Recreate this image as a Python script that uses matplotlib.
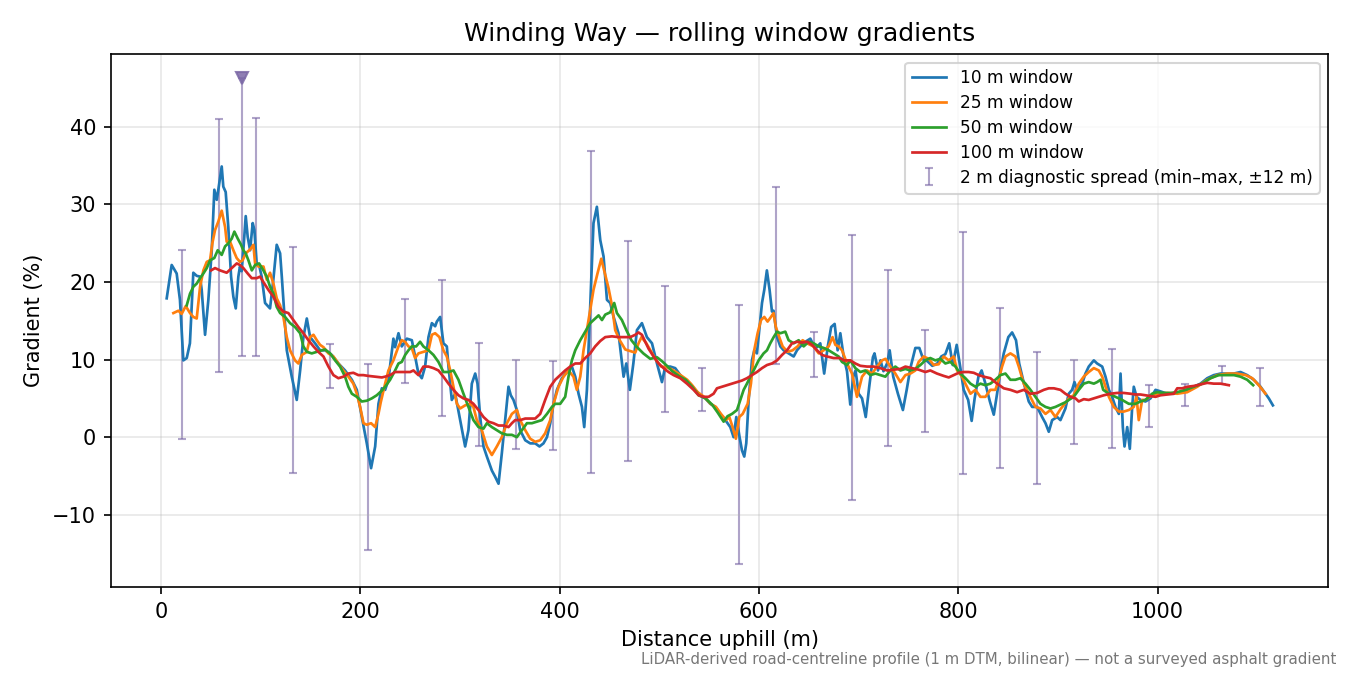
import numpy as np
import matplotlib
matplotlib.use("Agg")
import matplotlib.pyplot as plt

# distance (m) / gradient (%), one pair of lists per window
x10 = [5.7, 10.7, 15.7, 19, 22.4, 25.8, 29, 32.4, 35.8, 39.1, 40.8, 44.2, 47.5, 50.9, 53.5, 55.9, 57.5,
       60.9, 62.5, 64.9, 67.5, 70.3, 72.6, 75, 77.6, 79.2, 80.9, 82.6, 85, 87, 89.4, 92, 93.7, 96, 98.4,
       101, 104.4, 109.4, 112.7, 116.1, 119.5, 121.2, 126.2, 131.2, 136.2, 139.6, 142.9, 146.3, 149.6,
       154.6, 159.6, 164.7, 171.4, 178, 184.7, 191.5, 196.5, 201.5, 206.5, 210.8, 214.9, 218.2, 221.6,
       224.9, 228.2, 233.2, 234.9, 238.3, 241.6, 246.7, 251.7, 255, 258.3, 261.7, 265, 268.4, 271.8,
       275.1, 276.8, 280.1, 283.4, 286.8, 288.5, 291.8, 295.2, 300.2, 305.2, 308.5, 311.9, 315.3, 317.6,
       320.3, 323.6, 327, 332, 335.3, 338.7, 342, 345.4, 348.7, 351, 353.7, 357.1, 360.4, 365.5, 370.5,
       375.5, 379.8, 383.8, 387.3, 390.6, 393.9, 397.3, 402.3, 407.3, 412.3, 415.7, 419, 422.4, 424.7,
       427.4, 430.7, 434, 437.4, 440.8, 444.1, 447.5, 450.8, 454.2, 459.1, 464.2, 466.9, 470.5, 474,
       477.6, 482.6, 487.6, 492.7, 497.7, 502.7, 506, 511, 516, 521.1, 526.1, 531.1, 536.1, 541.2, 546.2,
       551.2, 556.2, 561.2, 566.3, 571.3, 574.6, 577.3, 580.6, 583, 585.3, 587.3, 589.7, 593, 595.4, 598,
       600.7, 603.1, 605.4, 608, 610.7, 613.1, 614.7, 618.2, 621.5, 624.8, 629.8, 634.9, 638.2, 641.6,
       646.6, 651.6, 656.6, 661.6, 665.5, 669, 672.5, 676, 679, 681.7, 685, 688.4, 691.7, 694.7, 697,
       700.1, 703.5, 707.2, 710.7, 714.4, 716, 719.5, 722, 725, 728.6, 731.2, 734.8, 739.5, 744.5, 748.3,
       752, 757, 761, 765, 769, 774, 779, 783, 787.1, 791, 794.5, 798.5, 802.2, 805.5, 810, 813.5, 816.5,
       820.3, 823.5, 827.3, 831.8, 835.7, 839, 842.4, 845.7, 850.3, 854.1, 858, 861.2, 865.8, 870.8,
       874.2, 879.2, 884.2, 887.6, 890.9, 894.3, 899.3, 902.6, 907.6, 910.9, 914.3, 916.7, 919.3, 924.4,
       927.7, 931, 936.1, 939.4, 944.5, 947.8, 951.2, 954.5, 957.8, 961.2, 962.9, 965.2, 966.9, 969.6,
       972.2, 974.6, 976.2, 979, 982.9, 987.9, 993, 998, 1003, 1009.7, 1016.4, 1023.1, 1029.8, 1036.4,
       1043.2, 1049.9, 1056.5, 1063.3, 1070, 1076.7, 1083.3, 1090, 1096.7, 1103.4, 1108.4, 1111.7, 1115.8]
g10 = [17.9, 22.2, 21.1, 17.7, 9.9, 10.2, 12.1, 21.2, 20.8, 20.7, 19.0, 13.2, 17.7, 24.1, 31.9, 30.6, 31.9,
       34.9, 32.3, 31.6, 27.1, 20.7, 18.1, 16.6, 20.7, 22.0, 21.4, 24.1, 28.5, 25.8, 24.1, 27.6, 26.7, 22.4,
       22.2, 20.7, 17.3, 16.6, 20.3, 24.8, 23.7, 20.7, 11.2, 7.8, 4.8, 8.6, 12.9, 15.3, 12.9,
       12.1, 11.2, 11.2, 10.6, 9.5, 8.6, 7.4, 6.1, 2.6, -0.8, -4.0, -1.2, 4.3, 6.3,
       6.1, 7.4, 12.7, 11.6, 13.4, 11.7, 12.7, 12.5, 10.4, 8.2, 7.6, 9.1, 12.9, 14.7,
       14.3, 14.9, 15.5, 12.1, 11.7, 9.1, 4.8, 5.6, 2.2, -1.2, 0.9, 6.9, 8.2, 6.9,
       2.6, -1.2, -2.5, -4.3, -5.1, -6.0, -2.1, 2.2, 6.5, 5.4, 4.8, 3.5, 0.9, -0.4, -0.8,
       -0.8, -1.2, -0.8, 0.0, 1.8, 4.3, 6.1, 7.6, 8.4, 9.1, 7.8, 5.6, 3.9, 1.3,
       6.1, 16.8, 27.6, 29.7, 25.4, 23.3, 17.7, 17.3, 15.5, 13.4, 7.8, 9.5, 6.1, 9.5,
       13.8, 14.7, 12.9, 12.1, 9.5, 7.1, 9.1, 9.1, 8.9, 8.0, 7.4, 6.9, 6.1, 5.4, 5.0,
       4.3, 3.9, 3.0, 2.2, 1.3, 0.0, 2.6, 0.0, -1.7, -2.5, -0.8, 4.8, 9.9, 11.2, 10.8,
       14.2, 17.3, 19.0, 21.5, 19.0, 16.2, 16.3, 12.9, 11.7, 11.2, 10.8, 10.4, 11.2, 11.7,
       12.3, 12.7, 11.4, 12.1, 8.2, 11.6, 14.2, 14.6, 11.2, 13.4, 10.4, 8.5, 4.2, 7.8, 8.6,
       5.6, 5.0, 2.6, 6.5, 10.3, 10.8, 8.6, 9.9, 8.5, 9.5, 11.2, 7.8, 5.6, 3.5, 6.1,
       8.9, 11.5, 11.5, 10.0, 9.8, 9.2, 9.5, 10.4, 10.7, 12.1, 9.3, 11.9, 8.9, 6.1, 4.8, 2.1, 5.0,
       7.8, 8.6, 6.9, 4.6, 2.9, 5.6, 8.6, 10.8, 12.9, 13.5, 12.5, 9.5, 7.0, 4.6,
       3.9, 3.9, 2.6, 1.8, 0.7, 2.2, 2.6, 2.2, 3.7, 5.6, 6.1, 7.1, 6.1, 6.9,
       8.2, 9.1, 9.9, 9.5, 9.1, 7.8, 6.1, 5.2, 3.9, 3.0, 8.2, 1.3, -1.2, 1.3,
       -1.5, 3.9, 6.5, 5.2, 4.8, 4.6, 5.0, 6.1, 5.9, 5.6, 5.6, 5.8, 6.1, 6.5,
       6.9, 7.6, 8.0, 8.2, 8.2, 8.2, 8.4, 8.0, 7.4, 6.5, 5.6, 5.0, 4.1]

x25 = [12.4, 17.4, 20.7, 24.8, 29.1, 32.4, 35.8, 39.2, 42.5, 45.9, 49.2, 51.5, 54.2, 57.5, 60.9, 64.3, 65.9,
       69.3, 72.6, 75.9, 79.2, 81.9, 85, 89.4, 92.7, 94.4, 97.7, 102.8, 106.1, 109.4, 112.8, 116.1, 119.5,
       122.8, 126.2, 129.5, 134.5, 137.8, 141.3, 146.3, 149.6, 153, 156.3, 159.6, 163, 168, 173, 178, 183,
       188, 193, 196.5, 199.8, 203.2, 206.5, 210.8, 214.9, 218.2, 220.5, 224.9, 228.2, 233.2, 238.3, 241.6,
       244.9, 248.3, 251.6, 255, 258.3, 263.3, 268.4, 271.8, 275.1, 279.4, 283.4, 286.8, 290.2, 293.5,
       296.9, 300.2, 305.2, 310.2, 313.5, 316.9, 321.9, 327, 332, 337, 342, 347.1, 352.1, 357.1, 360.4,
       365.5, 370.5, 375.5, 380.5, 385.5, 390.6, 393.9, 398.9, 403.9, 408.9, 413.9, 417.3, 420.7, 424,
       427.4, 430.7, 434, 438, 441.8, 445.8, 449.1, 452.5, 455.8, 460.3, 465.9, 470.9, 475.9, 479.2,
       482.2, 487, 492, 497, 502, 508, 513, 518, 523.5, 528, 533, 538.5, 545, 551.5, 556.9, 561.9, 567,
       570.3, 573.6, 576.9, 580.3, 583.7, 588.7, 592, 595.3, 598.7, 602.1, 605.4, 608.7, 612.1, 614.7,
       617, 620.4, 623.8, 628.8, 633.8, 638.8, 643.9, 648.3, 654.8, 660, 665, 670, 673.9, 676.7, 680,
       683.4, 688.4, 693.4, 698.4, 703.5, 708.5, 713.6, 718.6, 723.6, 727, 731.9, 736.9, 742, 747, 752,
       757, 760.3, 765.3, 770.4, 775.4, 780.4, 785.4, 790.5, 795.5, 798.9, 803.9, 807.2, 812.3, 817.3,
       822.3, 827.3, 832.3, 837.3, 840.6, 844, 847.4, 852.4, 857.4, 860.8, 865.8, 872.5, 877.5, 882.5,
       887.6, 892.6, 897.6, 902.6, 907.6, 911, 915.9, 921, 926, 931, 936.1, 941.1, 944.5, 947.8, 951.2,
       956.1, 961.2, 966.2, 971.2, 976.2, 978.9, 981.2, 984.6, 987.9, 993, 999.7, 1009.7, 1019.8, 1029.8,
       1039.9, 1049.9, 1059.9, 1070, 1080, 1088.4, 1095.1, 1101.7, 1108.4]
g25 = [16.0, 16.3, 15.9, 16.9, 16.0, 15.5, 15.3, 19.4, 21.5, 22.6, 22.8, 25.0, 26.7, 27.8, 29.2, 27.1, 25.2,
       25.2, 24.1, 23.1, 22.6, 22.8, 23.7, 24.2, 24.8, 22.4, 22.0, 22.0, 20.3, 21.2, 19.8, 17.9, 17.0,
       15.5, 12.9, 11.2, 9.9, 9.5, 10.6, 11.0, 12.9, 13.2, 12.5, 11.9, 11.6, 10.8, 10.4, 9.5, 8.6,
       7.8, 6.9, 5.6, 3.9, 1.8, 1.6, 1.8, 1.3, 3.0, 4.5, 6.9, 8.6, 9.9, 11.7, 12.5,
       12.3, 11.7, 11.5, 10.2, 10.8, 11.0, 11.2, 13.2, 13.4, 12.9, 11.2, 10.4, 8.6, 6.5,
       4.3, 3.7, 4.1, 4.3, 3.9, 2.2, 0.9, -1.2, -2.3, -1.2, 0.0, 1.8, 3.0, 3.5, 2.2,
       0.9, -0.2, -0.6, -0.4, 0.5, 2.2, 4.3, 6.5, 7.8, 8.6, 7.8, 6.1, 7.8, 11.2,
       13.8, 16.4, 19.0, 21.1, 23.0, 20.9, 19.2, 17.0, 13.8, 12.5, 11.3, 11.1, 10.9, 12.1,
       12.9, 12.1, 11.0, 9.9, 9.1, 9.0, 8.7, 8.3, 7.8, 7.4, 6.7, 5.8, 5.2, 4.3, 3.9, 3.0, 2.2,
       2.6, 1.3, -0.2, 2.6, 3.0, 4.3, 6.9, 11.2, 13.4, 15.1, 15.5, 14.9, 15.5, 16.0,
       14.2, 12.9, 11.7, 11.0, 11.2, 11.7, 12.5, 12.1, 11.7, 10.8, 11.2, 11.7, 12.9, 11.9, 11.7,
       11.2, 9.5, 8.2, 5.2, 7.8, 8.6, 8.2, 9.1, 9.9, 10.1, 9.1, 8.2, 7.1, 8.0, 8.2,
       8.6, 9.7, 10.4, 10.1, 9.3, 9.4, 10.4, 9.9, 10.4, 8.6, 7.8, 6.9, 5.6, 6.1,
       5.2, 5.2, 6.1, 6.1, 7.4, 9.1, 10.4, 10.8, 10.4, 9.1, 6.9, 5.2, 3.9, 3.7,
       3.0, 3.5, 2.6, 3.6, 4.4, 5.0, 5.4, 6.9, 7.8, 8.4, 8.9, 8.6, 7.8, 6.5, 5.2,
       3.9, 3.3, 3.3, 3.5, 3.9, 5.2, 2.2, 4.8, 4.8, 5.3, 5.6, 5.7, 5.6, 5.8,
       6.5, 7.4, 8.0, 8.2, 8.2, 8.0, 7.6, 6.7, 5.6]

x50 = [25.8, 29.1, 32.5, 35.8, 39.2, 42.5, 45.9, 49.2, 53.5, 56.9, 60.9, 64.3, 67.6, 71, 73.6, 77, 80.3,
       82.6, 85, 87.7, 91.1, 94.4, 98.4, 102.7, 106.1, 109.4, 112.8, 116.1, 119.5, 124.5, 129.5, 134.5,
       139.6, 142.9, 146.3, 151.3, 156.3, 161.3, 164.7, 169.7, 174.7, 179.7, 184.7, 188, 191.5, 196.5,
       201.5, 206.5, 211.5, 216.5, 221.6, 224.9, 229.9, 234.9, 238.3, 241.6, 245, 248.3, 251.7, 256, 260,
       263.3, 268.4, 273.4, 278.4, 283.4, 288.5, 293.5, 298.5, 303.5, 308.5, 313.5, 318.6, 323.6, 327,
       332, 337, 342, 347.1, 352.1, 357.1, 362.1, 367.2, 372.2, 377.2, 382.2, 387.3, 392.3, 395.6, 400.6,
       405.6, 408.9, 412.3, 415.7, 420.7, 425.7, 430.7, 435.7, 439.1, 442.5, 445.8, 450.8, 454.8, 457.5,
       462.5, 467, 472, 477, 484, 491, 497.7, 502.7, 507.7, 513, 519.5, 526.5, 533, 539.5, 546.5, 553,
       558.5, 564.6, 568.5, 573, 578, 581.3, 584.7, 588, 591.4, 594.7, 599.7, 604.7, 608.1, 611.4, 614.8,
       618.2, 621.5, 626.5, 629.8, 634.9, 639.9, 644.9, 649.9, 654.9, 660, 665, 670, 675, 680, 683.4,
       688.4, 691.7, 696.8, 701.8, 706.8, 711.8, 716.9, 721.9, 726.9, 731.9, 736.9, 742, 747, 752, 757,
       762, 767, 772, 777, 782.1, 787.1, 792.1, 797.2, 802.2, 807.2, 812.3, 817.3, 822.3, 827.3, 832.3,
       837.3, 842.4, 847.4, 852.4, 857.4, 862.4, 867.5, 872.5, 877.5, 882.5, 887.6, 892.6, 897.6, 902.6,
       907.6, 911, 915.9, 921, 926, 931, 936.1, 939.4, 942.8, 945.5, 951.2, 957.8, 964.5, 971.2, 977.9,
       982.9, 987.9, 991.3, 994.6, 999.7, 1006.4, 1013.1, 1019.8, 1028.1, 1036.4, 1044.9, 1053.2, 1061.5,
       1070, 1076.7, 1083.3, 1090, 1096]
g50 = [17.0, 18.5, 19.4, 19.8, 20.5, 21.1, 21.8, 22.8, 23.1, 24.1, 23.5, 24.6, 25.0, 25.6, 26.5, 25.6, 24.8,
       24.1, 23.7, 22.8, 21.5, 22.2, 22.4, 21.5, 20.7, 19.4, 18.5, 16.8, 16.0, 15.5, 14.7, 14.2,
       13.4, 11.7, 11.0, 10.8, 11.0, 11.2, 11.3, 10.8, 9.9, 9.1, 7.8, 6.5, 5.6, 5.2,
       4.6, 4.7, 5.0, 5.4, 6.0, 6.5, 7.4, 8.6, 9.5, 9.7, 10.6, 11.2, 11.7, 11.7, 12.3,
       11.7, 11.2, 10.6, 9.7, 8.4, 8.4, 8.6, 7.4, 5.6, 3.9, 2.2, 1.3, 1.1, 1.8,
       1.3, 0.9, 0.5, 0.3, 0.3, 0.0, 0.9, 1.8, 1.8, 2.0, 2.2, 3.0, 3.9, 4.3, 4.3,
       5.2, 7.8, 9.9, 11.2, 12.5, 13.6, 14.7, 15.3, 15.7, 15.1, 15.8, 16.1, 17.3, 16.0,
       15.1, 13.8, 12.5, 11.7, 10.8, 10.1, 10.3, 9.8, 9.2, 8.5, 7.9, 7.4, 6.5, 5.4, 5.0, 4.2,
       3.2, 2.0, 2.7, 3.0, 3.5, 4.8, 6.1, 6.9, 7.8, 8.6, 9.9, 10.8, 11.2, 12.1, 12.9,
       13.6, 13.4, 13.6, 12.5, 12.1, 12.5, 11.7, 12.3, 12.1, 11.7, 11.5, 11.2, 10.8, 10.4, 9.7,
       9.3, 9.9, 8.9, 8.4, 8.6, 8.0, 8.2, 8.0, 7.8, 8.6, 9.1, 8.6, 8.8, 8.6, 8.8,
       9.3, 9.9, 10.2, 9.9, 10.1, 9.5, 9.7, 9.1, 8.2, 7.6, 6.9, 6.5, 6.9, 6.7, 6.9,
       7.4, 8.0, 8.2, 7.4, 7.4, 7.6, 6.9, 6.1, 5.2, 4.3, 3.9, 3.7, 3.9, 4.2,
       4.5, 4.8, 5.2, 6.1, 6.9, 7.1, 6.9, 7.1, 7.4, 6.1, 5.6, 5.2, 4.8, 4.3, 4.3,
       4.6, 4.8, 5.2, 5.6, 5.8, 5.7, 5.7, 5.8, 6.1, 6.5, 6.9, 7.6, 8.0,
       8.0, 8.0, 7.8, 7.4, 6.7]

x100 = [50.2, 54.2, 59.2, 65.9, 71, 76, 79.2, 82.6, 87, 91, 96, 99.4, 102.7, 107.7, 112.8, 117.8, 122.8,
        127.8, 132.8, 137.8, 142.9, 147.9, 153, 157.9, 163, 168, 173, 178, 183, 188, 193, 198, 203, 208,
        214.9, 221.6, 224.9, 229.9, 234.9, 240, 245, 250, 253.3, 258.3, 263.3, 268.4, 273.4, 278.4, 283.4,
        288.5, 293.5, 298.5, 303.5, 308.5, 313.5, 318.6, 323.6, 328.6, 333.6, 338.7, 343.7, 348.7, 352.1,
        355.4, 360.4, 365.5, 370.5, 375.5, 380.5, 385.5, 390.6, 395.6, 400.6, 405.6, 410.6, 415.7, 420.7,
        425.7, 430.7, 435.7, 440.8, 445.8, 452.5, 459.1, 465.9, 470.9, 475.9, 479.2, 482.6, 485.9, 489.3,
        494.3, 499.3, 504.3, 509.3, 514.4, 521.1, 527.8, 534.5, 539.5, 544.5, 549.5, 554.5, 557.9, 562.9,
        568, 573, 578, 583, 588, 593, 598, 603.1, 608.1, 613.1, 618.2, 623.2, 628.2, 633.2, 638.2, 643.3,
        648.3, 653.3, 658.3, 663.3, 668.4, 675, 681.7, 685, 691.7, 696.8, 701.8, 708.5, 715.2, 721.9,
        728.6, 735.3, 742, 747, 753.7, 760.3, 767, 772, 778.7, 785.4, 790.5, 795.5, 800.5, 805.5, 810.5,
        815.6, 820.6, 825.6, 832.3, 839, 845.7, 852.4, 859.1, 865.8, 872.5, 879.2, 885.9, 890.9, 896,
        902.6, 907.6, 912.7, 917.7, 921, 926, 931, 936.1, 941.1, 946.1, 952.8, 959.5, 966.2, 972.9,
        977.9, 982.9, 987.9, 993, 998, 1003, 1009.7, 1016.4, 1019.8, 1024.8, 1029.8, 1036.4, 1043.2,
        1049.9, 1056.5, 1063.3, 1071.6]
g100 = [21.5, 21.8, 21.5, 21.2, 21.8, 22.4, 22.2, 21.8, 21.1, 20.5, 20.5, 20.7, 20.0, 19.0, 18.1, 16.8, 16.2,
        16.0, 15.1, 14.2, 13.4, 12.5, 11.7, 11.0, 10.4, 9.1, 8.0, 7.6, 7.8, 8.2, 8.3, 8.0, 8.0, 7.9,
        7.8, 7.7, 7.8, 8.0, 8.4, 8.4, 8.4, 8.4, 8.6, 8.0, 9.1, 9.1, 8.9, 8.6, 7.8,
        6.9, 6.1, 5.4, 5.0, 4.8, 4.3, 3.5, 2.6, 2.0, 1.8, 1.5, 1.5, 1.3, 1.8,
        2.2, 2.2, 2.4, 2.4, 2.4, 3.0, 4.8, 6.5, 7.4, 8.0, 8.6, 9.1, 9.5, 9.5,
        10.2, 10.8, 11.7, 12.4, 12.9, 13.0, 12.9, 12.9, 12.9, 13.2, 13.5, 13.2, 12.3, 11.4,
        10.4, 9.5, 8.9, 8.4, 8.0, 7.6, 6.9, 6.1, 5.4, 5.2, 5.2, 5.6, 6.3, 6.5,
        6.7, 6.9, 7.1, 7.3, 7.6, 8.0, 8.4, 8.9, 9.3, 9.5, 9.9, 10.6, 11.2, 12.1, 12.3, 12.2,
        12.3, 11.9, 11.2, 10.6, 10.4, 10.2, 10.2, 9.9, 9.9, 9.5, 9.2, 9.1, 9.1, 8.9,
        8.6, 8.7, 8.8, 9.1, 8.9, 8.7, 8.4, 8.6, 8.2, 7.9, 7.7, 8.0, 8.3, 8.4, 8.4,
        8.3, 8.0, 7.8, 7.6, 6.9, 6.3, 6.1, 5.8, 6.1, 5.6, 5.7, 6.1, 6.3, 6.3,
        6.1, 5.6, 5.2, 5.0, 4.6, 4.9, 4.8, 5.0, 5.2, 5.4, 5.6, 5.7, 5.7, 5.6,
        5.5, 5.5, 5.4, 5.3, 5.2, 5.4, 5.5, 5.6, 6.3, 6.3, 6.5, 6.6, 6.8,
        7.0, 6.9, 6.9, 6.7]

# 2 m diagnostic spread: min-max of the 2 m gradient within +-12 m of each station
spread_x = [21, 58, 80.8, 95, 132, 170, 207.5, 245, 282, 319, 356, 393, 431, 469, 506, 543, 580, 617.5,
            655.5, 693, 730, 767, 804.5, 841.5, 879, 916.5, 954, 991, 1028, 1065, 1103]
spread_lo = [-0.2, 8.4, 10.4, 10.4, -4.6, 6.4, -14.6, 7.0, 2.7, -1.2, -1.5, -1.7, -4.6, -3.1, 3.3, 3.4,
             -16.3, 9.4, 7.8, -8.1, -1.2, 0.7, -4.8, -4.0, -6.1, -0.9, -1.4, 1.3, 4.0, 6.8, 4.0]
spread_hi = [24.1, 41.0, 60.0, 41.2, 24.5, 12.0, 9.4, 17.8, 20.3, 12.1, 9.9, 9.8, 36.9, 25.3, 19.5, 8.9,
             17.1, 32.3, 13.5, 26.1, 21.5, 13.8, 26.5, 16.7, 11.0, 9.9, 11.4, 6.7, 6.8, 9.2, 8.9]

Y_CLIP = 46.3   # spread bars running off the top get a marker here
SPREAD_COL = "#7b68a6"

fig, ax = plt.subplots(figsize=(9, 4.5), dpi=150)
fig.subplots_adjust(left=0.082, right=0.984, bottom=0.130, top=0.920)

sx = np.array(spread_x)
lo = np.array(spread_lo)
hi = np.array(spread_hi)
hi_c = np.minimum(hi, Y_CLIP)
mid = (lo + hi_c) / 2
ax.errorbar(sx, mid, yerr=[mid - lo, hi_c - mid], fmt="none", ecolor=SPREAD_COL, alpha=0.6,
            elinewidth=1.0, capsize=2.0, capthick=1.0, zorder=1,
            label="2 m diagnostic spread (min\u2013max, \u00b112 m)")
clipped = hi > Y_CLIP
ax.plot(sx[clipped], hi_c[clipped], "v", color=SPREAD_COL, alpha=0.85, ms=6, zorder=2)

ax.plot(x10, g10, color="#1f77b4", lw=1.3, label="10 m window", zorder=3)
ax.plot(x25, g25, color="#ff7f0e", lw=1.3, label="25 m window", zorder=3)
ax.plot(x50, g50, color="#2ca02c", lw=1.3, label="50 m window", zorder=3)
ax.plot(x100, g100, color="#d62728", lw=1.3, label="100 m window", zorder=3)

ax.set_xlim(-50.5, 1171.5)
ax.set_ylim(-19.35, 49.4)
ax.grid(True, alpha=0.3)
ax.set_xlabel("Distance uphill (m)")
ax.set_ylabel("Gradient (%)")
ax.set_title("Winding Way \u2014 rolling window gradients")

h, l = ax.get_legend_handles_labels()
order = [l.index(s) for s in ["10 m window", "25 m window", "50 m window", "100 m window"]]
order.append(l.index("2 m diagnostic spread (min\u2013max, \u00b112 m)"))
ax.legend([h[i] for i in order], [l[i] for i in order], loc="upper right", fontsize=8.2,
          labelspacing=0.4)

fig.text(0.99, 0.012, "LiDAR-derived road-centreline profile (1 m DTM, bilinear) \u2014 not a surveyed asphalt gradient",
         ha="right", va="bottom", fontsize=7.2, color="#777777")

plt.savefig("out.png", dpi=150)
